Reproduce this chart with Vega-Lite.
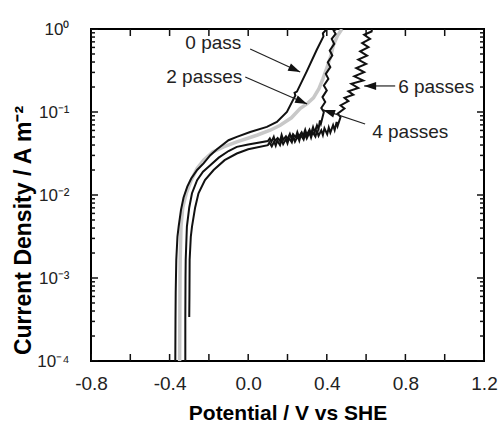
{
  "$schema": "https://vega.github.io/schema/vega-lite/v6.json",
  "width": 393,
  "height": 332,
  "autosize": "none",
  "padding": {"left": 91, "top": 29, "right": 15, "bottom": 64},
  "background": "white",
  "config": {
    "view": {"stroke": "black", "strokeWidth": 2},
    "font": "Liberation Sans",
    "axis": {
      "grid": false, "domain": false, "ticks": false,
      "labelFont": "Liberation Sans", "labelFontSize": 19, "labelColor": "#222",
      "titleFont": "Liberation Sans", "titleFontSize": 21, "titleFontWeight": "bold", "titleColor": "black"
    }
  },
  "datasets": {
    "curves": [
      {"series": "0 pass", "i": 1, "V": -0.371, "j": 0.0001},
      {"series": "0 pass", "i": 2, "V": -0.370, "j": 0.000316},
      {"series": "0 pass", "i": 3, "V": -0.369, "j": 0.000661},
      {"series": "0 pass", "i": 4, "V": -0.366, "j": 0.00166},
      {"series": "0 pass", "i": 5, "V": -0.360, "j": 0.00316},
      {"series": "0 pass", "i": 6, "V": -0.354, "j": 0.00417},
      {"series": "0 pass", "i": 7, "V": -0.342, "j": 0.00661},
      {"series": "0 pass", "i": 8, "V": -0.329, "j": 0.00933},
      {"series": "0 pass", "i": 9, "V": -0.310, "j": 0.0126},
      {"series": "0 pass", "i": 10, "V": -0.290, "j": 0.0158},
      {"series": "0 pass", "i": 11, "V": -0.260, "j": 0.0200},
      {"series": "0 pass", "i": 12, "V": -0.227, "j": 0.0240},
      {"series": "0 pass", "i": 13, "V": -0.193, "j": 0.0302},
      {"series": "0 pass", "i": 14, "V": -0.159, "j": 0.0355},
      {"series": "0 pass", "i": 15, "V": -0.100, "j": 0.0457},
      {"series": "0 pass", "i": 16, "V": -0.058, "j": 0.0501},
      {"series": "0 pass", "i": 17, "V": 0.010, "j": 0.0575},
      {"series": "0 pass", "i": 18, "V": 0.095, "j": 0.0661},
      {"series": "0 pass", "i": 19, "V": 0.146, "j": 0.0759},
      {"series": "0 pass", "i": 20, "V": 0.197, "j": 0.100},
      {"series": "0 pass", "i": 21, "V": 0.240, "j": 0.158},
      {"series": "0 pass", "i": 22, "V": 0.236, "j": 0.170},
      {"series": "0 pass", "i": 23, "V": 0.248, "j": 0.176},
      {"series": "0 pass", "i": 24, "V": 0.298, "j": 0.309},
      {"series": "0 pass", "i": 25, "V": 0.349, "j": 0.562},
      {"series": "0 pass", "i": 26, "V": 0.383, "j": 0.813},
      {"series": "0 pass", "i": 27, "V": 0.380, "j": 0.890},
      {"series": "0 pass", "i": 28, "V": 0.400, "j": 1.0},

      {"series": "2 passes", "i": 1, "V": -0.349, "j": 0.0001},
      {"series": "2 passes", "i": 2, "V": -0.348, "j": 0.000316},
      {"series": "2 passes", "i": 3, "V": -0.347, "j": 0.001},
      {"series": "2 passes", "i": 4, "V": -0.346, "j": 0.00166},
      {"series": "2 passes", "i": 5, "V": -0.342, "j": 0.00417},
      {"series": "2 passes", "i": 6, "V": -0.333, "j": 0.00708},
      {"series": "2 passes", "i": 7, "V": -0.315, "j": 0.0105},
      {"series": "2 passes", "i": 8, "V": -0.290, "j": 0.0151},
      {"series": "2 passes", "i": 9, "V": -0.260, "j": 0.0209},
      {"series": "2 passes", "i": 10, "V": -0.227, "j": 0.0263},
      {"series": "2 passes", "i": 11, "V": -0.180, "j": 0.0331},
      {"series": "2 passes", "i": 12, "V": -0.125, "j": 0.0380},
      {"series": "2 passes", "i": 13, "V": -0.058, "j": 0.0437},
      {"series": "2 passes", "i": 14, "V": 0.044, "j": 0.0525},
      {"series": "2 passes", "i": 15, "V": 0.112, "j": 0.0603},
      {"series": "2 passes", "i": 16, "V": 0.163, "j": 0.0692},
      {"series": "2 passes", "i": 17, "V": 0.220, "j": 0.0851},
      {"series": "2 passes", "i": 18, "V": 0.264, "j": 0.110},
      {"series": "2 passes", "i": 19, "V": 0.300, "j": 0.126},
      {"series": "2 passes", "i": 20, "V": 0.332, "j": 0.148},
      {"series": "2 passes", "i": 21, "V": 0.360, "j": 0.191},
      {"series": "2 passes", "i": 22, "V": 0.380, "j": 0.251},
      {"series": "2 passes", "i": 23, "V": 0.400, "j": 0.339},
      {"series": "2 passes", "i": 24, "V": 0.420, "j": 0.468},
      {"series": "2 passes", "i": 25, "V": 0.434, "j": 0.646},
      {"series": "2 passes", "i": 26, "V": 0.455, "j": 0.832},
      {"series": "2 passes", "i": 27, "V": 0.477, "j": 1.0},

      {"series": "4 passes", "i": 1, "V": -0.320, "j": 0.0001},
      {"series": "4 passes", "i": 2, "V": -0.320, "j": 0.000316},
      {"series": "4 passes", "i": 3, "V": -0.319, "j": 0.001},
      {"series": "4 passes", "i": 4, "V": -0.318, "j": 0.00166},
      {"series": "4 passes", "i": 5, "V": -0.312, "j": 0.00417},
      {"series": "4 passes", "i": 6, "V": -0.300, "j": 0.00708},
      {"series": "4 passes", "i": 7, "V": -0.286, "j": 0.0105},
      {"series": "4 passes", "i": 8, "V": -0.260, "j": 0.0151},
      {"series": "4 passes", "i": 9, "V": -0.230, "j": 0.0191},
      {"series": "4 passes", "i": 10, "V": -0.193, "j": 0.0229},
      {"series": "4 passes", "i": 11, "V": -0.150, "j": 0.0282},
      {"series": "4 passes", "i": 12, "V": -0.100, "j": 0.0339},
      {"series": "4 passes", "i": 13, "V": -0.058, "j": 0.0380},
      {"series": "4 passes", "i": 14, "V": 0.000, "j": 0.0407},
      {"series": "4 passes", "i": 15, "V": 0.100, "j": 0.0447},
      {"series": "4 passes", "i": 16, "V": 0.110, "j": 0.0480},
      {"series": "4 passes", "i": 17, "V": 0.118, "j": 0.0437},
      {"series": "4 passes", "i": 18, "V": 0.130, "j": 0.0501},
      {"series": "4 passes", "i": 19, "V": 0.136, "j": 0.0447},
      {"series": "4 passes", "i": 20, "V": 0.150, "j": 0.0485},
      {"series": "4 passes", "i": 21, "V": 0.162, "j": 0.0447},
      {"series": "4 passes", "i": 22, "V": 0.170, "j": 0.0530},
      {"series": "4 passes", "i": 23, "V": 0.178, "j": 0.0462},
      {"series": "4 passes", "i": 24, "V": 0.192, "j": 0.0510},
      {"series": "4 passes", "i": 25, "V": 0.200, "j": 0.0472},
      {"series": "4 passes", "i": 26, "V": 0.212, "j": 0.0545},
      {"series": "4 passes", "i": 27, "V": 0.220, "j": 0.0482},
      {"series": "4 passes", "i": 28, "V": 0.228, "j": 0.0540},
      {"series": "4 passes", "i": 29, "V": 0.242, "j": 0.0495},
      {"series": "4 passes", "i": 30, "V": 0.250, "j": 0.0570},
      {"series": "4 passes", "i": 31, "V": 0.258, "j": 0.0505},
      {"series": "4 passes", "i": 32, "V": 0.272, "j": 0.0568},
      {"series": "4 passes", "i": 33, "V": 0.280, "j": 0.0518},
      {"series": "4 passes", "i": 34, "V": 0.290, "j": 0.0610},
      {"series": "4 passes", "i": 35, "V": 0.298, "j": 0.0530},
      {"series": "4 passes", "i": 36, "V": 0.312, "j": 0.0612},
      {"series": "4 passes", "i": 37, "V": 0.320, "j": 0.0545},
      {"series": "4 passes", "i": 38, "V": 0.330, "j": 0.0655},
      {"series": "4 passes", "i": 39, "V": 0.338, "j": 0.0570},
      {"series": "4 passes", "i": 40, "V": 0.350, "j": 0.0690},
      {"series": "4 passes", "i": 41, "V": 0.358, "j": 0.0622},
      {"series": "4 passes", "i": 42, "V": 0.365, "j": 0.0794},
      {"series": "4 passes", "i": 43, "V": 0.370, "j": 0.0724},
      {"series": "4 passes", "i": 44, "V": 0.385, "j": 0.100},
      {"series": "4 passes", "i": 45, "V": 0.372, "j": 0.112},
      {"series": "4 passes", "i": 46, "V": 0.392, "j": 0.132},
      {"series": "4 passes", "i": 47, "V": 0.378, "j": 0.151},
      {"series": "4 passes", "i": 48, "V": 0.400, "j": 0.182},
      {"series": "4 passes", "i": 49, "V": 0.385, "j": 0.209},
      {"series": "4 passes", "i": 50, "V": 0.408, "j": 0.251},
      {"series": "4 passes", "i": 51, "V": 0.395, "j": 0.288},
      {"series": "4 passes", "i": 52, "V": 0.418, "j": 0.347},
      {"series": "4 passes", "i": 53, "V": 0.405, "j": 0.398},
      {"series": "4 passes", "i": 54, "V": 0.428, "j": 0.479},
      {"series": "4 passes", "i": 55, "V": 0.415, "j": 0.550},
      {"series": "4 passes", "i": 56, "V": 0.438, "j": 0.661},
      {"series": "4 passes", "i": 57, "V": 0.425, "j": 0.759},
      {"series": "4 passes", "i": 58, "V": 0.445, "j": 0.871},
      {"series": "4 passes", "i": 59, "V": 0.435, "j": 0.955},
      {"series": "4 passes", "i": 60, "V": 0.450, "j": 1.0},

      {"series": "6 passes", "i": 1, "V": -0.300, "j": 0.000339},
      {"series": "6 passes", "i": 2, "V": -0.299, "j": 0.000631},
      {"series": "6 passes", "i": 3, "V": -0.298, "j": 0.00166},
      {"series": "6 passes", "i": 4, "V": -0.292, "j": 0.00316},
      {"series": "6 passes", "i": 5, "V": -0.286, "j": 0.00417},
      {"series": "6 passes", "i": 6, "V": -0.270, "j": 0.00708},
      {"series": "6 passes", "i": 7, "V": -0.253, "j": 0.0105},
      {"series": "6 passes", "i": 8, "V": -0.220, "j": 0.0151},
      {"series": "6 passes", "i": 9, "V": -0.176, "j": 0.0200},
      {"series": "6 passes", "i": 10, "V": -0.120, "j": 0.0263},
      {"series": "6 passes", "i": 11, "V": -0.058, "j": 0.0316},
      {"series": "6 passes", "i": 12, "V": 0.000, "j": 0.0355},
      {"series": "6 passes", "i": 13, "V": 0.100, "j": 0.0398},
      {"series": "6 passes", "i": 14, "V": 0.108, "j": 0.0430},
      {"series": "6 passes", "i": 15, "V": 0.120, "j": 0.0385},
      {"series": "6 passes", "i": 16, "V": 0.132, "j": 0.0440},
      {"series": "6 passes", "i": 17, "V": 0.140, "j": 0.0392},
      {"series": "6 passes", "i": 18, "V": 0.148, "j": 0.0452},
      {"series": "6 passes", "i": 19, "V": 0.162, "j": 0.0400},
      {"series": "6 passes", "i": 20, "V": 0.170, "j": 0.0462},
      {"series": "6 passes", "i": 21, "V": 0.178, "j": 0.0410},
      {"series": "6 passes", "i": 22, "V": 0.192, "j": 0.0472},
      {"series": "6 passes", "i": 23, "V": 0.200, "j": 0.0420},
      {"series": "6 passes", "i": 24, "V": 0.208, "j": 0.0485},
      {"series": "6 passes", "i": 25, "V": 0.222, "j": 0.0430},
      {"series": "6 passes", "i": 26, "V": 0.230, "j": 0.0505},
      {"series": "6 passes", "i": 27, "V": 0.238, "j": 0.0440},
      {"series": "6 passes", "i": 28, "V": 0.252, "j": 0.0510},
      {"series": "6 passes", "i": 29, "V": 0.260, "j": 0.0452},
      {"series": "6 passes", "i": 30, "V": 0.268, "j": 0.0528},
      {"series": "6 passes", "i": 31, "V": 0.282, "j": 0.0465},
      {"series": "6 passes", "i": 32, "V": 0.290, "j": 0.0545},
      {"series": "6 passes", "i": 33, "V": 0.298, "j": 0.0482},
      {"series": "6 passes", "i": 34, "V": 0.312, "j": 0.0565},
      {"series": "6 passes", "i": 35, "V": 0.320, "j": 0.0492},
      {"series": "6 passes", "i": 36, "V": 0.328, "j": 0.0572},
      {"series": "6 passes", "i": 37, "V": 0.342, "j": 0.0505},
      {"series": "6 passes", "i": 38, "V": 0.350, "j": 0.0592},
      {"series": "6 passes", "i": 39, "V": 0.358, "j": 0.0515},
      {"series": "6 passes", "i": 40, "V": 0.372, "j": 0.0600},
      {"series": "6 passes", "i": 41, "V": 0.380, "j": 0.0528},
      {"series": "6 passes", "i": 42, "V": 0.388, "j": 0.0635},
      {"series": "6 passes", "i": 43, "V": 0.402, "j": 0.0540},
      {"series": "6 passes", "i": 44, "V": 0.410, "j": 0.0650},
      {"series": "6 passes", "i": 45, "V": 0.418, "j": 0.0565},
      {"series": "6 passes", "i": 46, "V": 0.432, "j": 0.0695},
      {"series": "6 passes", "i": 47, "V": 0.440, "j": 0.0605},
      {"series": "6 passes", "i": 48, "V": 0.450, "j": 0.0759},
      {"series": "6 passes", "i": 49, "V": 0.455, "j": 0.0676},
      {"series": "6 passes", "i": 50, "V": 0.470, "j": 0.0871},
      {"series": "6 passes", "i": 51, "V": 0.455, "j": 0.0955},
      {"series": "6 passes", "i": 52, "V": 0.490, "j": 0.110},
      {"series": "6 passes", "i": 53, "V": 0.470, "j": 0.120},
      {"series": "6 passes", "i": 54, "V": 0.510, "j": 0.135},
      {"series": "6 passes", "i": 55, "V": 0.490, "j": 0.148},
      {"series": "6 passes", "i": 56, "V": 0.535, "j": 0.162},
      {"series": "6 passes", "i": 57, "V": 0.510, "j": 0.178},
      {"series": "6 passes", "i": 58, "V": 0.560, "j": 0.195},
      {"series": "6 passes", "i": 59, "V": 0.525, "j": 0.219},
      {"series": "6 passes", "i": 60, "V": 0.585, "j": 0.240},
      {"series": "6 passes", "i": 61, "V": 0.540, "j": 0.269},
      {"series": "6 passes", "i": 62, "V": 0.590, "j": 0.302},
      {"series": "6 passes", "i": 63, "V": 0.550, "j": 0.339},
      {"series": "6 passes", "i": 64, "V": 0.600, "j": 0.380},
      {"series": "6 passes", "i": 65, "V": 0.560, "j": 0.427},
      {"series": "6 passes", "i": 66, "V": 0.605, "j": 0.479},
      {"series": "6 passes", "i": 67, "V": 0.570, "j": 0.537},
      {"series": "6 passes", "i": 68, "V": 0.612, "j": 0.603},
      {"series": "6 passes", "i": 69, "V": 0.580, "j": 0.676},
      {"series": "6 passes", "i": 70, "V": 0.620, "j": 0.759},
      {"series": "6 passes", "i": 71, "V": 0.590, "j": 0.851},
      {"series": "6 passes", "i": 72, "V": 0.628, "j": 0.933},
      {"series": "6 passes", "i": 73, "V": 0.630, "j": 1.0}
    ],
    "labels": [
      {"label": "0 pass", "V": -0.32, "j": 0.678},
      {"label": "2 passes", "V": -0.417, "j": 0.264},
      {"label": "6 passes", "V": 0.763, "j": 0.2},
      {"label": "4 passes", "V": 0.631, "j": 0.0574}
    ],
    "arrows": [
      {"arrow": "0 pass", "V1": 0.010, "j1": 0.574, "V2": 0.2645, "j2": 0.303},
      {"arrow": "2 passes", "V1": -0.015, "j1": 0.264, "V2": 0.300, "j2": 0.125},
      {"arrow": "6 passes", "V1": 0.748, "j1": 0.206, "V2": 0.590, "j2": 0.206},
      {"arrow": "4 passes", "V1": 0.595, "j1": 0.0716, "V2": 0.381, "j2": 0.106}
    ],
    "xmarks": [
      {"t": -0.8, "yb": 0.0001, "yt": 1}, {"t": -0.6, "yb": 0.0001, "yt": 1}, {"t": -0.4, "yb": 0.0001, "yt": 1},
      {"t": -0.2, "yb": 0.0001, "yt": 1}, {"t": 0.0, "yb": 0.0001, "yt": 1}, {"t": 0.2, "yb": 0.0001, "yt": 1},
      {"t": 0.4, "yb": 0.0001, "yt": 1}, {"t": 0.6, "yb": 0.0001, "yt": 1}, {"t": 0.8, "yb": 0.0001, "yt": 1},
      {"t": 1.0, "yb": 0.0001, "yt": 1}, {"t": 1.2, "yb": 0.0001, "yt": 1}
    ],
    "ymarks": [
      {"t": 0.0001, "kind": "major", "xl": -0.8, "xr": 1.2}, {"t": 0.001, "kind": "major", "xl": -0.8, "xr": 1.2},
      {"t": 0.01, "kind": "major", "xl": -0.8, "xr": 1.2}, {"t": 0.1, "kind": "major", "xl": -0.8, "xr": 1.2},
      {"t": 1, "kind": "major", "xl": -0.8, "xr": 1.2},
      {"t": 0.0002, "kind": "minor", "xl": -0.8, "xr": 1.2}, {"t": 0.0003, "kind": "minor", "xl": -0.8, "xr": 1.2},
      {"t": 0.0004, "kind": "minor", "xl": -0.8, "xr": 1.2}, {"t": 0.0005, "kind": "minor", "xl": -0.8, "xr": 1.2},
      {"t": 0.0006, "kind": "minor", "xl": -0.8, "xr": 1.2}, {"t": 0.0007, "kind": "minor", "xl": -0.8, "xr": 1.2},
      {"t": 0.0008, "kind": "minor", "xl": -0.8, "xr": 1.2}, {"t": 0.0009, "kind": "minor", "xl": -0.8, "xr": 1.2},
      {"t": 0.002, "kind": "minor", "xl": -0.8, "xr": 1.2}, {"t": 0.003, "kind": "minor", "xl": -0.8, "xr": 1.2},
      {"t": 0.004, "kind": "minor", "xl": -0.8, "xr": 1.2}, {"t": 0.005, "kind": "minor", "xl": -0.8, "xr": 1.2},
      {"t": 0.006, "kind": "minor", "xl": -0.8, "xr": 1.2}, {"t": 0.007, "kind": "minor", "xl": -0.8, "xr": 1.2},
      {"t": 0.008, "kind": "minor", "xl": -0.8, "xr": 1.2}, {"t": 0.009, "kind": "minor", "xl": -0.8, "xr": 1.2},
      {"t": 0.02, "kind": "minor", "xl": -0.8, "xr": 1.2}, {"t": 0.03, "kind": "minor", "xl": -0.8, "xr": 1.2},
      {"t": 0.04, "kind": "minor", "xl": -0.8, "xr": 1.2}, {"t": 0.05, "kind": "minor", "xl": -0.8, "xr": 1.2},
      {"t": 0.06, "kind": "minor", "xl": -0.8, "xr": 1.2}, {"t": 0.07, "kind": "minor", "xl": -0.8, "xr": 1.2},
      {"t": 0.08, "kind": "minor", "xl": -0.8, "xr": 1.2}, {"t": 0.09, "kind": "minor", "xl": -0.8, "xr": 1.2},
      {"t": 0.2, "kind": "minor", "xl": -0.8, "xr": 1.2}, {"t": 0.3, "kind": "minor", "xl": -0.8, "xr": 1.2},
      {"t": 0.4, "kind": "minor", "xl": -0.8, "xr": 1.2}, {"t": 0.5, "kind": "minor", "xl": -0.8, "xr": 1.2},
      {"t": 0.6, "kind": "minor", "xl": -0.8, "xr": 1.2}, {"t": 0.7, "kind": "minor", "xl": -0.8, "xr": 1.2},
      {"t": 0.8, "kind": "minor", "xl": -0.8, "xr": 1.2}, {"t": 0.9, "kind": "minor", "xl": -0.8, "xr": 1.2}
    ]
  },
  "layer": [
    {
      "data": {"name": "curves"},
      "transform": [{"filter": "datum.series == '2 passes'"}],
      "mark": {"type": "line", "color": "#c8c8c8", "strokeWidth": 3.5, "clip": true},
      "encoding": {
        "x": {"field": "V", "type": "quantitative",
              "scale": {"domain": [-0.8, 1.2], "nice": false, "zero": false},
              "axis": {"orient": "bottom", "values": [-0.8, -0.4, 0, 0.4, 0.8, 1.2],
                       "labelExpr": "(datum.value < -0.001 ? '-' : '') + format(abs(datum.value), '.1f')",
                       "labelPadding": 13, "title": "Potential / V vs SHE", "titlePadding": 9, "labelFlush": false}},
        "y": {"field": "j", "type": "quantitative",
              "scale": {"type": "log", "domain": [0.0001, 1], "nice": false},
              "axis": {"orient": "left", "values": [0.0001, 0.001, 0.01, 0.1, 1],
                       "labelExpr": "datum.value > 0.5 ? '10⁰' : datum.value > 0.05 ? '10⁻¹' : datum.value > 0.005 ? '10⁻²' : datum.value > 0.0005 ? '10⁻³' : '10⁻⁴'",
                       "labelFontSize": 17, "labelPadding": 22, "title": "Current Density / A m⁻²", "titleFontSize": 23, "titleY": 201, "titlePadding": 1, "labelFlush": false}},
        "order": {"field": "i", "type": "quantitative"}
      }
    },
    {
      "data": {"name": "curves"},
      "transform": [{"filter": "datum.series != '2 passes'"}],
      "mark": {"type": "line", "color": "#111111", "strokeWidth": 2, "clip": true},
      "encoding": {
        "x": {"field": "V", "type": "quantitative", "scale": {"domain": [-0.8, 1.2], "nice": false, "zero": false}, "axis": null},
        "y": {"field": "j", "type": "quantitative", "scale": {"type": "log", "domain": [0.0001, 1], "nice": false}, "axis": null},
        "detail": {"field": "series"},
        "order": {"field": "i", "type": "quantitative"}
      }
    },
    {
      "data": {"name": "xmarks"},
      "mark": {"type": "tick", "orient": "vertical", "size": 14, "thickness": 1.5, "color": "#111", "opacity": 1, "clip": true},
      "encoding": {
        "x": {"field": "t", "type": "quantitative", "scale": {"domain": [-0.8, 1.2], "nice": false, "zero": false}, "axis": null},
        "y": {"field": "yb", "type": "quantitative", "scale": {"type": "log", "domain": [0.0001, 1], "nice": false}, "axis": null}
      }
    },
    {
      "data": {"name": "xmarks"},
      "mark": {"type": "tick", "orient": "vertical", "size": 14, "thickness": 1.5, "color": "#111", "opacity": 1, "clip": true},
      "encoding": {
        "x": {"field": "t", "type": "quantitative", "scale": {"domain": [-0.8, 1.2], "nice": false, "zero": false}, "axis": null},
        "y": {"field": "yt", "type": "quantitative", "scale": {"type": "log", "domain": [0.0001, 1], "nice": false}, "axis": null}
      }
    },
    {
      "data": {"name": "ymarks"},
      "transform": [{"filter": "datum.kind == 'major'"}],
      "mark": {"type": "tick", "orient": "horizontal", "size": 14, "thickness": 1.5, "color": "#111", "opacity": 1, "clip": true},
      "encoding": {
        "y": {"field": "t", "type": "quantitative", "scale": {"type": "log", "domain": [0.0001, 1], "nice": false}, "axis": null},
        "x": {"field": "xl", "type": "quantitative", "scale": {"domain": [-0.8, 1.2], "nice": false, "zero": false}, "axis": null}
      }
    },
    {
      "data": {"name": "ymarks"},
      "transform": [{"filter": "datum.kind == 'major'"}],
      "mark": {"type": "tick", "orient": "horizontal", "size": 14, "thickness": 1.5, "color": "#111", "opacity": 1, "clip": true},
      "encoding": {
        "y": {"field": "t", "type": "quantitative", "scale": {"type": "log", "domain": [0.0001, 1], "nice": false}, "axis": null},
        "x": {"field": "xr", "type": "quantitative", "scale": {"domain": [-0.8, 1.2], "nice": false, "zero": false}, "axis": null}
      }
    },
    {
      "data": {"name": "ymarks"},
      "transform": [{"filter": "datum.kind == 'minor'"}],
      "mark": {"type": "tick", "orient": "horizontal", "size": 8, "thickness": 1.5, "color": "#111", "opacity": 1, "clip": true},
      "encoding": {
        "y": {"field": "t", "type": "quantitative", "scale": {"type": "log", "domain": [0.0001, 1], "nice": false}, "axis": null},
        "x": {"field": "xl", "type": "quantitative", "scale": {"domain": [-0.8, 1.2], "nice": false, "zero": false}, "axis": null}
      }
    },
    {
      "data": {"name": "ymarks"},
      "transform": [{"filter": "datum.kind == 'minor'"}],
      "mark": {"type": "tick", "orient": "horizontal", "size": 8, "thickness": 1.5, "color": "#111", "opacity": 1, "clip": true},
      "encoding": {
        "y": {"field": "t", "type": "quantitative", "scale": {"type": "log", "domain": [0.0001, 1], "nice": false}, "axis": null},
        "x": {"field": "xr", "type": "quantitative", "scale": {"domain": [-0.8, 1.2], "nice": false, "zero": false}, "axis": null}
      }
    },
    {
      "data": {"name": "labels"},
      "mark": {"type": "text", "align": "left", "baseline": "middle", "fontSize": 19, "font": "Liberation Sans", "color": "#222"},
      "encoding": {
        "x": {"field": "V", "type": "quantitative", "scale": {"domain": [-0.8, 1.2], "nice": false, "zero": false}, "axis": null},
        "y": {"field": "j", "type": "quantitative", "scale": {"type": "log", "domain": [0.0001, 1], "nice": false}, "axis": null},
        "text": {"field": "label"}
      }
    },
    {
      "data": {"name": "arrows"},
      "mark": {"type": "rule", "color": "#222", "strokeWidth": 1.2},
      "encoding": {
        "x": {"field": "V1", "type": "quantitative", "scale": {"domain": [-0.8, 1.2], "nice": false, "zero": false}, "axis": null},
        "y": {"field": "j1", "type": "quantitative", "scale": {"type": "log", "domain": [0.0001, 1], "nice": false}, "axis": null},
        "x2": {"field": "V2"},
        "y2": {"field": "j2"}
      }
    },
    {
      "data": {"name": "arrows"},
      "transform": [{"filter": "datum.arrow == '0 pass'"}],
      "mark": {"type": "point", "shape": "M0,0L-2.4,-0.8L-2.4,0.8Z", "filled": true, "color": "#111", "size": 100, "angle": 24.7, "opacity": 1},
      "encoding": {
        "x": {"field": "V2", "type": "quantitative", "scale": {"domain": [-0.8, 1.2], "nice": false, "zero": false}, "axis": null},
        "y": {"field": "j2", "type": "quantitative", "scale": {"type": "log", "domain": [0.0001, 1], "nice": false}, "axis": null}
      }
    },
    {
      "data": {"name": "arrows"},
      "transform": [{"filter": "datum.arrow == '2 passes'"}],
      "mark": {"type": "point", "shape": "M0,0L-2.4,-0.8L-2.4,0.8Z", "filled": true, "color": "#111", "size": 100, "angle": 23.5, "opacity": 1},
      "encoding": {
        "x": {"field": "V2", "type": "quantitative", "scale": {"domain": [-0.8, 1.2], "nice": false, "zero": false}, "axis": null},
        "y": {"field": "j2", "type": "quantitative", "scale": {"type": "log", "domain": [0.0001, 1], "nice": false}, "axis": null}
      }
    },
    {
      "data": {"name": "arrows"},
      "transform": [{"filter": "datum.arrow == '6 passes'"}],
      "mark": {"type": "point", "shape": "M0,0L-2.4,-0.8L-2.4,0.8Z", "filled": true, "color": "#111", "size": 100, "angle": 180, "opacity": 1},
      "encoding": {
        "x": {"field": "V2", "type": "quantitative", "scale": {"domain": [-0.8, 1.2], "nice": false, "zero": false}, "axis": null},
        "y": {"field": "j2", "type": "quantitative", "scale": {"type": "log", "domain": [0.0001, 1], "nice": false}, "axis": null}
      }
    },
    {
      "data": {"name": "arrows"},
      "transform": [{"filter": "datum.arrow == '4 passes'"}],
      "mark": {"type": "point", "shape": "M0,0L-2.4,-0.8L-2.4,0.8Z", "filled": true, "color": "#111", "size": 100, "angle": 198.4, "opacity": 1},
      "encoding": {
        "x": {"field": "V2", "type": "quantitative", "scale": {"domain": [-0.8, 1.2], "nice": false, "zero": false}, "axis": null},
        "y": {"field": "j2", "type": "quantitative", "scale": {"type": "log", "domain": [0.0001, 1], "nice": false}, "axis": null}
      }
    }
  ],
  "resolve": {"axis": {"x": "independent", "y": "independent"}}
}
